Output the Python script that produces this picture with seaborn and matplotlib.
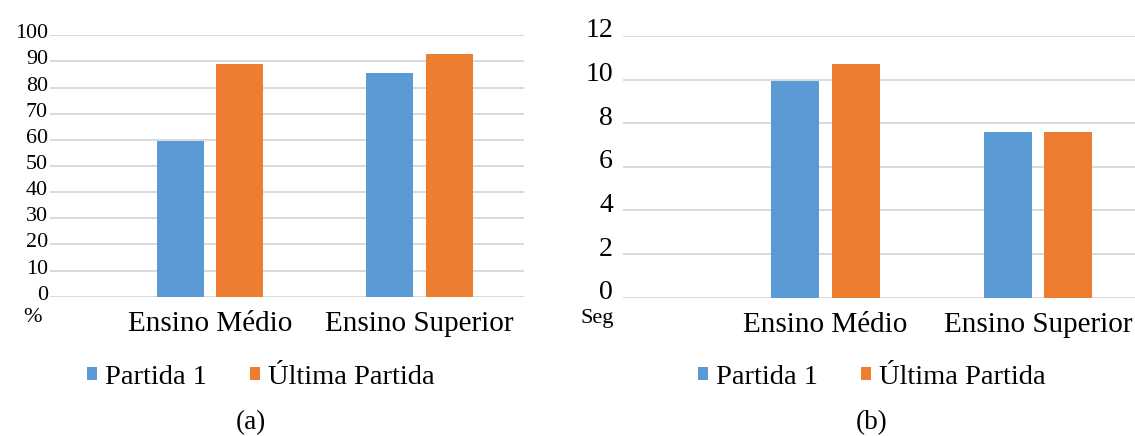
import matplotlib
matplotlib.use("Agg")
import matplotlib.pyplot as plt
from matplotlib.patches import Patch
from matplotlib.transforms import ScaledTranslation
import pandas as pd
import seaborn as sns

# Data
categorias = ["Ensino Médio", "Ensino Superior"]
series = ["Partida 1", "Última Partida"]
acertos_partida1 = [59.7, 85.6]      # %
acertos_ultima = [88.9, 92.9]        # %
tempo_partida1 = [9.95, 7.61]        # seconds
tempo_ultima = [10.70, 7.61]         # seconds
ticks_pct = list(range(0, 101, 10))
ticks_seg = list(range(0, 13, 2))

AZUL = "#5B9BD5"
LARANJA = "#ED7D31"
GRADE = "#D9D9D9"

sns.set_theme(style="white")
plt.rcParams["font.family"] = "serif"
plt.rcParams["font.serif"] = ["Liberation Serif", "Times New Roman",
                              "DejaVu Serif"]
SERIF = ["Liberation Serif", "DejaVu Serif"]


def tabela(v1, v2):
    return pd.DataFrame({
        "nivel": categorias * 2,
        "partida": [series[0]] * 2 + [series[1]] * 2,
        "valor": list(v1) + list(v2),
    })


fig = plt.figure(figsize=(11.35, 4.36), dpi=100)
W, H = 1135, 436

ax_a = fig.add_axes([50 / W, 139.3 / H, 474 / W, 261.4 / H])
ax_b = fig.add_axes([622.7 / W, 138.3 / H, 512.3 / W, 261.7 / H])

paineis = [
    (ax_a, tabela(acertos_partida1, acertos_ultima), (0, 100), ticks_pct,
     (-0.763, 1.5), 15.8, 1.5, 4, "%", (32, 318), "(a)", (251, 423), 261),
    (ax_b, tabela(tempo_partida1, tempo_ultima), (0, 12), ticks_seg,
     (-0.954, 1.456), 20, 7, 8, "Seg", (597, 318), "(b)", (872, 423), 872),
]

for (ax, df, ylim, yticks, xlim, fs_y, pad_y, sobe, unidade, pos_u,
     rotulo, pos_r, cx_leg) in paineis:
    sns.barplot(data=df, x="nivel", y="valor", hue="partida",
                hue_order=series, palette=[AZUL, LARANJA],
                width=0.568, gap=0.21, ax=ax, legend=False,
                saturation=1, edgecolor="none")
    ax.set_ylim(*ylim)
    ax.set_xlim(*xlim)
    ax.set_yticks(yticks)
    ax.set_yticklabels([str(t) for t in yticks], family=SERIF)
    ax.set_xticks(range(len(categorias)))
    ax.set_xticklabels(categorias, family=SERIF)
    ax.set_xlabel("")
    ax.set_ylabel("")
    for s in ax.spines.values():
        s.set_visible(False)
    ax.yaxis.grid(True, color=GRADE, linewidth=1.4)
    ax.xaxis.grid(False)
    ax.set_axisbelow(True)
    ax.tick_params(axis="y", length=0, pad=pad_y, labelsize=fs_y,
                   labelcolor="black")
    ax.tick_params(axis="x", length=0, pad=10, labelsize=21,
                   labelcolor="black")
    ax.set_facecolor("white")

    # value labels sit slightly above their grid lines
    desloc = ScaledTranslation(0, sobe / 100, fig.dpi_scale_trans)
    for lbl in ax.get_yticklabels():
        lbl.set_transform(lbl.get_transform() + desloc)

    fig.text(pos_u[0] / W, 1 - pos_u[1] / H, unidade, ha="center",
             va="center", fontsize=16, color="black", family=SERIF)
    fig.text(pos_r[0] / W, 1 - pos_r[1] / H, rotulo, ha="center",
             va="center", fontsize=19.5, color="black", family=SERIF)

    alcas = [Patch(facecolor=AZUL, edgecolor="none"),
             Patch(facecolor=LARANJA, edgecolor="none")]
    fig.legend(alcas, series, loc="center",
               bbox_to_anchor=(cx_leg / W, 1 - 377 / H), ncol=2,
               frameon=False, handlelength=0.35,
               handleheight=0.35, handletextpad=0.3, columnspacing=1.5,
               borderpad=0, labelcolor="black",
               prop={"family": SERIF, "size": 20.5})

fig.savefig("out.png", dpi=100, facecolor="white")
